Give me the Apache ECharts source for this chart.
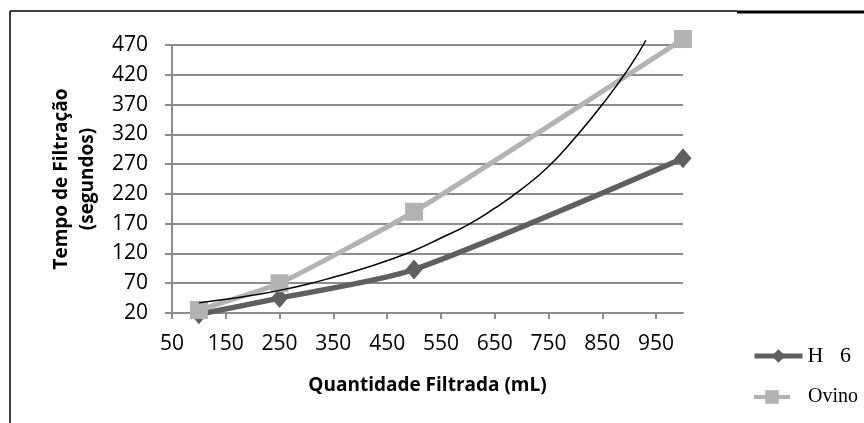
<!DOCTYPE html>
<html>
<head>
<meta charset="utf-8">
<script src="https://cdn.jsdelivr.net/npm/echarts@6/dist/echarts.min.js"></script>
<style>
  html, body { margin: 0; padding: 0; background: #fff; }
  #main { width: 864px; height: 423px; }
</style>
</head>
<body>
<div id="main"></div>
<script>
// dados
var volumes = [100, 250, 500, 1000];
var tempoH6 = [18, 45, 93, 280];
var tempoOvino = [25, 70, 190, 480];
// linha de tendência (exponencial) lida ponto a ponto
var trendX = [100, 150, 200, 250, 300, 350, 400, 450, 500, 550, 600, 650, 700, 750, 800, 850, 900, 931];
var trendY = [37, 43, 50, 58, 68, 80, 93, 108, 125, 146, 168, 196, 228, 266, 315, 370, 432, 478];
var xTicks = [50, 150, 250, 350, 450, 550, 650, 750, 850, 950];
var yTicks = [20, 70, 120, 170, 220, 270, 320, 370, 420, 470];

function pairs(xs, ys) {
    return xs.map(function (x, i) { return [x, ys[i]]; });
}

var myChart = echarts.init(document.getElementById('main'));

var axisColor = '#8c8c8c';
var tickFont = { fontFamily: 'Open Sans', fontSize: 21, color: '#000' };

var option = {
    animation: false,
    backgroundColor: '#fff',
    grid: { left: 172, right: 181, top: 45, bottom: 110 },
    graphic: [
        { type: 'line', shape: { x1: 10, y1: 11, x2: 737, y2: 11 }, style: { stroke: '#000', lineWidth: 1.5 } },
        { type: 'line', shape: { x1: 737, y1: 12, x2: 864, y2: 12 }, style: { stroke: '#000', lineWidth: 3 } },
        { type: 'line', shape: { x1: 10, y1: 11, x2: 10, y2: 423 }, style: { stroke: '#000', lineWidth: 1.5 } }
    ],
    legend: [
        {
            data: ['H   6'],
            left: 752, top: 345,
            padding: 0,
            itemWidth: 48, itemHeight: 17,
            lineStyle: { width: 5 },
            textStyle: { fontFamily: 'Liberation Serif', fontSize: 22, color: '#000' }
        },
        {
            data: ['Ovino'],
            left: 752, top: 387,
            padding: 0,
            itemWidth: 36, itemHeight: 17,
            lineStyle: { width: 4 },
            textStyle: { fontFamily: 'Liberation Serif', fontSize: 20, color: '#000', padding: [0, 0, 0, 13] }
        }
    ],
    xAxis: {
        type: 'value',
        min: 50, max: 1000, interval: 100,
        name: 'Quantidade Filtrada (mL)',
        nameLocation: 'middle',
        nameGap: 63,
        nameTextStyle: { fontFamily: 'Open Sans', fontWeight: 'bold', fontSize: 19, color: '#000' },
        axisLine: { lineStyle: { color: axisColor, width: 2 } },
        axisTick: { customValues: xTicks, length: 6, lineStyle: { color: axisColor, width: 2 } },
        axisLabel: Object.assign({ customValues: xTicks, margin: 21 }, tickFont),
        splitLine: { show: false }
    },
    yAxis: {
        type: 'value',
        min: 20, max: 470, interval: 50,
        name: 'Tempo de Filtração\n(segundos)',
        nameLocation: 'middle',
        nameRotate: 90,
        nameGap: 70,
        nameTextStyle: { fontFamily: 'Open Sans', fontWeight: 'bold', fontSize: 19, color: '#000', lineHeight: 26 },
        axisLine: { show: true, lineStyle: { color: axisColor, width: 2 } },
        axisTick: { show: true, length: 7, lineStyle: { color: axisColor, width: 2 } },
        axisLabel: Object.assign({ customValues: yTicks, margin: 24 }, tickFont),
        splitLine: { lineStyle: { color: axisColor, width: 2 } }
    },
    series: [
        {
            name: 'H   6',
            type: 'line',
            data: pairs(volumes, tempoH6),
            smooth: 0.25,
            clip: false,
            symbol: 'diamond',
            symbolSize: [17, 20],
            itemStyle: { color: '#5f5f5f' },
            lineStyle: { color: '#5f5f5f', width: 5.5 }
        },
        {
            name: 'Ovino',
            type: 'line',
            data: pairs(volumes, tempoOvino),
            smooth: 0.15,
            clip: false,
            symbol: 'rect',
            symbolSize: 18,
            itemStyle: { color: '#b3b3b3' },
            lineStyle: { color: '#b3b3b3', width: 5 }
        },
        {
            name: 'tendência',
            type: 'line',
            data: pairs(trendX, trendY),
            smooth: true,
            clip: false,
            symbol: 'none',
            lineStyle: { color: '#000', width: 1.5 },
            z: 5
        }
    ]
};

myChart.setOption(option);
</script>
</body>
</html>
